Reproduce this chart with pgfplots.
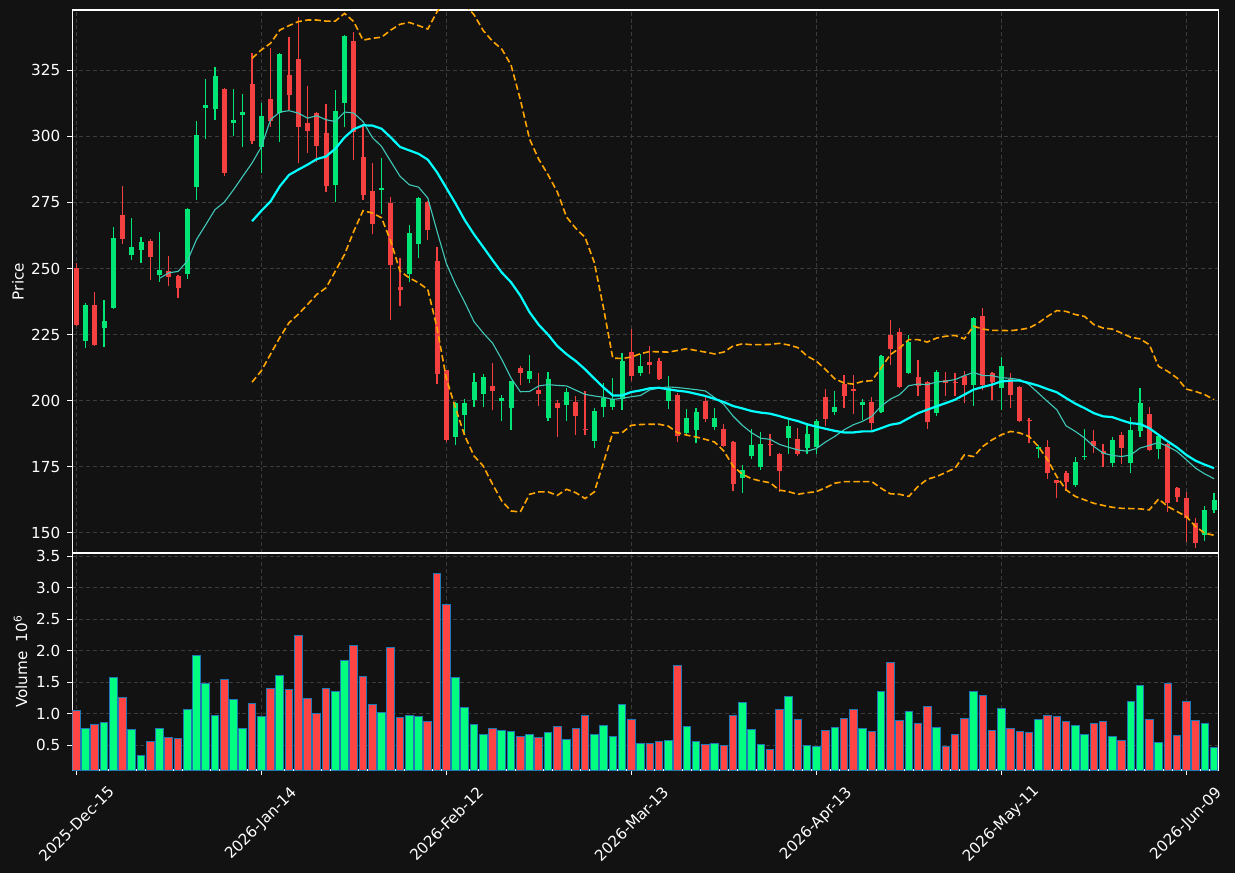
\documentclass[border=0pt]{standalone}
\usepackage{pgfplots}
\usepackage{pgfplotstable}
\usepackage{fontspec}
\setmainfont{DejaVu Sans}
\pgfplotsset{compat=1.18}
\definecolor{bg}{HTML}{121212}
\definecolor{cgreen}{HTML}{00E676}
\definecolor{cred}{HTML}{F44040}
\definecolor{vgreen}{HTML}{00FF80}
\definecolor{vred}{HTML}{FF4444}
\definecolor{gridc}{HTML}{3C3C3C}
\definecolor{mafast}{HTML}{40C8B8}
\definecolor{maslow}{HTML}{00FFFF}
\definecolor{bbc}{HTML}{FFA500}
\definecolor{edgeb}{HTML}{1F77B4}

\pgfplotstableread{
i o h l c v
1 222.6 237.1 220.1 236.1 0.772
3 227.5 238.0 220.5 230.0 0.867
4 235.1 265.8 234.8 261.7 1.580
6 255.1 269.2 253.3 258.3 0.756
7 257.0 262.0 252.2 260.2 0.344
9 247.5 263.9 245.0 249.3 0.772
12 248.0 273.0 246.1 272.7 1.073
13 280.7 305.8 275.8 300.6 1.928
14 310.9 321.7 299.0 311.9 1.485
15 310.2 326.1 306.1 322.9 0.978
17 304.9 317.8 300.1 306.1 1.231
18 308.1 315.9 296.0 309.3 0.772
20 295.8 312.5 286.1 307.8 0.962
22 309.0 331.5 297.8 331.2 1.611
28 281.7 317.5 275.1 309.7 1.358
29 312.8 338.2 303.4 338.0 1.849
33 279.6 291.8 270.7 280.6 1.025
36 247.8 266.6 245.0 263.6 0.978
37 259.1 277.1 254.1 276.6 0.962
41 186.3 199.5 183.4 199.3 1.580
42 194.6 200.5 187.5 199.3 1.105
43 200.3 210.6 197.6 207.0 0.835
44 202.6 210.2 197.6 208.9 0.677
46 199.9 202.0 192.5 201.2 0.740
47 197.3 207.5 189.1 207.3 0.724
49 208.1 217.2 206.8 211.1 0.677
51 193.5 211.0 192.5 208.1 0.709
53 198.4 204.7 192.5 203.2 0.598
56 184.8 197.3 182.3 196.0 0.677
57 197.6 206.8 193.9 200.9 0.819
58 197.6 208.7 196.6 200.5 0.645
59 200.5 218.2 196.6 214.9 1.152
61 210.5 217.8 209.4 213.0 0.534
64 199.9 209.4 197.0 204.9 0.582
66 187.8 197.0 187.2 193.6 0.804
67 188.9 197.4 184.1 195.9 0.566
69 190.2 197.4 188.8 193.3 0.534
72 170.8 175.8 165.2 173.7 1.184
73 179.1 189.4 178.1 183.1 0.756
74 174.9 188.2 173.8 183.5 0.519
77 185.9 193.2 180.0 190.3 1.279
79 182.1 191.7 179.9 187.3 0.503
80 182.4 193.0 179.7 192.2 0.487
82 195.6 203.8 194.6 197.6 0.788
85 198.2 200.8 192.6 199.5 0.772
87 195.6 217.4 195.3 216.9 1.358
90 210.4 225.0 210.2 222.1 1.041
93 195.2 211.5 194.1 211.0 0.788
97 205.8 231.5 198.0 231.3 1.358
100 204.7 216.4 196.5 213.3 1.089
104 181.8 183.2 178.3 182.4 0.914
108 168.2 178.7 167.3 176.9 0.819
109 178.7 189.3 177.7 179.2 0.677
112 176.6 186.1 175.1 185.2 0.645
114 176.3 193.8 172.6 189.0 1.200
115 188.4 204.8 186.2 199.2 1.453
117 181.6 187.4 177.9 186.7 0.550
122 149.2 160.2 147.1 158.7 0.851
123 158.7 165.0 157.7 162.5 0.471
}\greentab

\pgfplotstableread{
i o h l c v
0 250.3 252.2 228.3 228.6 1.057
2 236.1 241.2 220.7 221.1 0.835
5 270.4 281.2 259.1 261.1 1.263
8 260.6 261.0 245.6 254.3 0.566
10 248.9 254.8 243.4 246.8 0.629
11 247.0 247.5 239.0 242.6 0.614
16 318.0 318.3 285.0 286.0 1.548
19 319.8 331.7 297.1 298.1 1.168
21 314.2 333.3 303.7 306.0 1.405
23 323.2 337.7 309.9 315.8 1.390
24 329.3 345.3 289.9 303.7 2.245
25 305.1 319.0 293.7 302.2 1.247
26 308.9 309.2 290.3 296.2 1.009
27 301.4 312.4 278.8 281.4 1.405
30 336.1 339.6 291.0 301.5 2.087
31 292.3 304.4 276.1 278.0 1.596
32 279.5 289.9 262.9 267.0 1.152
34 274.9 277.1 230.7 251.2 2.055
35 243.2 254.1 235.8 241.7 0.946
38 275.3 275.5 260.7 264.7 0.883
39 253.0 258.1 206.3 210.2 3.227
40 211.5 211.8 184.2 185.1 2.736
45 205.5 214.4 196.6 203.7 0.772
48 212.3 213.3 205.8 210.5 0.645
50 203.9 210.6 198.1 202.6 0.629
52 199.0 200.3 186.4 197.3 0.804
54 199.4 201.8 187.2 194.2 0.772
55 189.3 203.7 187.2 189.0 0.978
60 218.3 227.3 207.5 209.4 0.914
62 214.5 220.7 210.2 213.7 0.534
63 214.9 216.2 207.7 208.1 0.566
65 202.0 202.8 184.5 186.7 1.772
68 199.9 201.8 192.1 193.1 0.519
70 189.2 191.3 182.5 182.9 0.503
71 184.3 184.9 165.9 168.5 0.978
75 183.8 187.5 179.2 183.3 0.439
76 179.7 180.4 165.6 173.4 1.073
78 185.4 189.8 179.1 179.9 0.914
81 201.3 204.6 190.4 193.1 0.740
83 206.4 209.7 197.2 201.6 0.930
84 204.4 209.7 195.0 203.5 1.073
86 199.5 201.3 189.0 191.4 0.724
88 225.0 230.4 213.6 219.4 1.817
89 226.1 227.5 205.0 205.3 0.899
91 209.0 215.3 201.6 205.4 0.851
92 207.2 207.5 189.3 191.8 1.120
94 207.8 210.7 201.8 206.7 0.487
95 207.2 210.5 201.6 206.6 0.677
96 209.5 211.4 199.1 205.8 0.930
98 232.2 235.1 204.2 206.1 1.295
99 210.5 210.7 200.4 206.9 0.740
101 208.2 210.5 197.2 202.0 0.772
102 205.3 205.7 192.0 192.2 0.724
103 192.8 193.4 184.0 192.3 0.709
105 182.6 185.1 170.3 172.5 0.978
106 170.0 170.2 163.1 168.7 0.962
107 172.6 173.5 166.0 169.1 0.883
110 184.8 189.0 180.4 183.0 0.851
111 181.1 183.6 174.9 179.9 0.883
113 187.1 188.1 176.0 182.3 0.582
116 195.1 197.6 181.0 181.2 0.914
118 183.7 184.0 158.0 161.5 1.485
119 167.0 167.2 161.6 163.4 0.661
120 163.3 165.5 146.6 155.8 1.200
121 153.8 155.8 144.2 146.3 0.899
}\redtab

% thin moving average
\pgfplotstableread{
i m
9 246.3
10 248.4
11 248.9
12 252.8
13 261.0
14 266.6
15 272.3
16 275.1
17 279.8
18 284.9
19 289.9
20 296.0
21 306.3
22 309.2
23 309.7
24 308.8
25 306.9
26 307.8
27 306.3
28 305.6
29 309.2
30 308.8
31 305.6
32 299.6
33 296.2
34 290.5
35 284.9
36 281.7
37 280.8
38 276.7
39 264.1
40 252.0
41 244.0
42 237.2
43 229.9
44 225.6
45 221.8
46 215.6
47 208.6
48 203.4
49 203.5
50 205.6
51 206.1
52 205.8
53 205.6
54 204.0
55 202.4
56 201.8
57 201.3
58 200.5
59 200.9
60 201.5
61 202.0
62 204.1
63 204.8
64 205.2
65 205.0
66 204.6
67 204.2
68 203.7
69 201.2
70 198.6
71 194.2
72 190.7
73 187.9
74 185.8
75 185.4
76 183.5
77 182.4
78 181.4
79 180.9
80 181.9
81 184.4
82 186.5
83 189.0
84 190.9
85 192.2
86 194.1
87 197.9
88 200.6
89 202.3
90 205.7
91 206.3
92 206.1
93 207.1
94 207.4
95 208.0
96 209.5
97 210.7
98 209.5
99 209.5
100 208.7
101 208.5
102 208.0
103 206.1
104 202.9
105 199.7
106 196.6
107 190.5
108 188.4
109 185.9
110 182.7
111 180.2
112 179.3
113 178.9
114 179.5
115 182.1
116 183.1
117 184.2
118 182.7
119 180.8
120 177.7
121 174.5
122 172.3
123 170.5
}\mafasttab

% thick moving average
\pgfplotstableread{
i m
19 267.9
20 271.8
21 275.4
22 281.1
23 285.4
24 287.4
25 289.3
26 291.4
27 292.4
28 295.3
29 299.6
30 302.7
31 304.2
32 304.1
33 302.9
34 299.6
35 296.0
36 294.7
37 293.4
38 291.2
39 286.4
40 280.5
41 274.6
42 268.3
43 262.9
44 258.1
45 253.2
46 248.5
47 244.8
48 239.8
49 233.5
50 228.7
51 225.0
52 220.7
53 217.6
54 215.0
55 211.9
56 208.4
57 205.0
58 202.0
59 202.0
60 203.3
61 203.9
62 204.7
63 204.9
64 204.3
65 203.8
66 203.4
67 202.6
68 201.8
69 200.7
70 199.5
71 198.0
72 197.1
73 196.1
74 195.5
75 195.1
76 194.2
77 193.2
78 192.3
79 191.1
80 190.2
81 189.4
82 188.6
83 188.0
84 188.0
85 188.4
86 188.4
87 189.6
88 190.9
89 191.5
90 193.4
91 195.3
92 196.6
93 197.9
94 199.1
95 200.4
96 202.3
97 204.2
98 205.2
99 206.1
100 207.3
101 207.6
102 207.6
103 206.7
104 205.7
105 204.4
106 203.2
107 201.0
108 198.9
109 197.2
110 195.3
111 194.1
112 193.8
113 192.6
114 191.5
115 191.2
116 189.6
117 187.1
118 184.6
119 182.3
120 179.5
121 177.3
122 175.8
123 174.5
}\maslowtab

% upper band
\pgfplotstableread{
i u
19 329.5
20 332.7
21 335.2
22 340.2
23 341.9
24 343.4
25 344.0
26 344.0
27 343.6
28 343.6
29 346.5
30 343.4
31 336.4
32 337.1
33 337.5
34 340.2
35 342.4
36 343.1
37 341.9
38 340.6
39 347.1
40 352.2
41 351.7
42 349.9
43 346.0
44 340.0
45 336.0
46 333.0
47 327.0
48 314.0
49 299.0
50 291.3
51 285.5
52 279.0
53 269.5
54 265.2
55 261.8
56 252.3
57 235.0
58 216.1
59 216.0
60 216.5
61 217.8
62 218.6
63 218.5
64 218.4
65 219.0
66 219.7
67 219.0
68 218.4
69 217.7
70 218.4
71 220.7
72 221.5
73 221.2
74 221.2
75 221.3
76 221.7
77 221.1
78 220.1
79 216.9
80 215.0
81 211.8
82 208.3
83 206.7
84 206.3
85 207.3
86 207.6
87 212.4
88 217.4
89 219.9
90 223.1
91 223.1
92 222.2
93 223.7
94 224.4
95 224.7
96 223.4
97 228.2
98 227.1
99 226.6
100 226.6
101 226.5
102 226.9
103 227.5
104 229.4
105 231.9
106 234.1
107 233.8
108 232.6
109 231.9
110 228.8
111 227.5
112 227.1
113 225.6
114 224.0
115 223.4
116 221.2
117 213.0
118 211.1
119 208.6
120 204.4
121 203.5
122 202.3
123 200.4
}\uppertab

% lower band
\pgfplotstableread{
i d
19 207.0
20 211.3
21 217.6
22 223.9
23 229.5
24 232.7
25 236.4
26 240.2
27 242.7
28 249.0
29 255.3
30 264.1
31 271.9
32 271.0
33 269.2
34 260.3
35 249.0
36 246.5
37 244.6
38 242.1
39 227.6
40 208.5
41 197.2
42 186.7
43 179.1
44 175.3
45 168.4
46 162.1
47 158.3
48 157.9
49 164.6
50 165.5
51 165.5
52 164.2
53 166.5
54 165.2
55 163.0
56 165.5
57 176.6
58 187.9
59 187.9
60 190.7
61 191.0
62 191.1
63 191.1
64 190.4
65 187.9
66 187.0
67 186.3
68 185.4
69 184.4
70 181.0
71 175.3
72 172.2
73 170.5
74 169.6
75 169.0
76 166.2
77 165.6
78 164.6
79 165.2
80 165.6
81 167.1
82 168.8
83 169.4
84 169.4
85 169.4
86 169.4
87 166.9
88 164.8
89 164.6
90 163.8
91 167.6
92 170.3
93 171.3
94 172.9
95 174.5
96 179.5
97 178.9
98 182.7
99 185.2
100 187.1
101 188.4
102 187.8
103 186.5
104 182.7
105 177.7
106 171.3
107 166.3
108 163.8
109 162.5
110 161.2
111 160.4
112 159.7
113 159.3
114 159.2
115 159.1
116 158.7
117 162.8
118 160.0
119 158.1
120 156.2
121 152.4
122 149.9
123 149.1
}\lowertab

\pgfplotsset{
  darkax/.style={
    scale only axis, anchor=south west, width=573pt,
    xmin=-0.43, xmax=123.46,
    axis background/.style={fill=bg},
    axis line style={white, line width=0.6pt},
    grid=major,
    grid style={gridc, dash pattern=on 2pt off 1.4pt, line width=0.45pt},
    tick style={white, line width=0.5pt},
    major tick length=2.5pt,
    tick align=outside,
    ytick pos=left, xtick pos=left,
    /pgf/number format/assume math mode=true,
    tick label style={font=\fontsize{7.6}{9}\selectfont, text=white},
    label style={font=\fontsize{7.6}{9}\selectfont, text=white},
    xtick={0,20,40,60,80,100,120},
  },
  wick/.style={draw=none, mark=none, forget plot,
    error bars/.cd, y dir=plus, y explicit, error mark=none,
    error bar style={draw=#1, solid, line width=0.6pt}},
  body/.style={draw=none, mark=none, forget plot,
    error bars/.cd, y dir=plus, y explicit, error mark=none,
    error bar style={draw=#1, solid, line width=2.5pt}},
}

\begin{document}
\begin{tikzpicture}
\fill[bg] (0,0) rectangle (617.5pt,436.5pt);

\begin{axis}[darkax,
  at={(36.15pt,160pt)}, height=271.5pt,
  ymin=142.4, ymax=347.8,
  ytick={150,175,200,225,250,275,300,325},
  yticklabels={150,175,200,225,250,275,300,325},
  xticklabels={}, xtick style={draw=none},
  ylabel={Price},
  ylabel style={at={(axis description cs:-0.0474,0.5)}, anchor=center},
]
\addplot[wick=cgreen] table[x=i, y=l, y error expr=\thisrow{h}-\thisrow{l}] {\greentab};
\addplot[wick=cred] table[x=i, y=l, y error expr=\thisrow{h}-\thisrow{l}] {\redtab};
\addplot[body=cgreen] table[x=i, y=o, y error expr=\thisrow{c}-\thisrow{o}] {\greentab};
\addplot[body=cred] table[x=i, y=c, y error expr=\thisrow{o}-\thisrow{c}] {\redtab};
\addplot[mafast, line width=0.55pt] table[x=i, y=m] {\mafasttab};
\addplot[maslow, line width=1.1pt] table[x=i, y=m] {\maslowtab};
\addplot[bbc, line width=0.8pt, dash pattern=on 3.2pt off 1.6pt] table[x=i, y=u] {\uppertab};
\addplot[bbc, line width=0.8pt, dash pattern=on 3.2pt off 1.6pt] table[x=i, y=d] {\lowertab};
\end{axis}

\begin{axis}[darkax,
  at={(36.15pt,51.5pt)}, height=108.5pt,
  ymin=0.108, ymax=3.55,
  ytick={0.5,1,1.5,2,2.5,3,3.5},
  yticklabels={0.5,1.0,1.5,2.0,2.5,3.0,3.5},
  xticklabels={2025-Dec-15,2026-Jan-14,2026-Feb-12,2026-Mar-13,2026-Apr-13,2026-May-11,2026-Jun-09},
  xticklabel style={anchor=center, yshift=-24.5pt, rotate=45},
  ylabel={Volume\hspace{0.6em}10\textsuperscript{6}},
  ylabel style={at={(axis description cs:-0.0452,0.5)}, anchor=center},
]
\addplot[ybar, bar width=0.82, bar shift=0pt, fill=vgreen, draw=edgeb, line width=0.5pt] table[x=i, y=v] {\greentab};
\addplot[ybar, bar width=0.82, bar shift=0pt, fill=vred, draw=edgeb, line width=0.5pt] table[x=i, y=v] {\redtab};
\end{axis}

\pgfresetboundingbox
\path[use as bounding box] (0,0) rectangle (617.5pt,436.5pt);
\end{tikzpicture}
\end{document}
